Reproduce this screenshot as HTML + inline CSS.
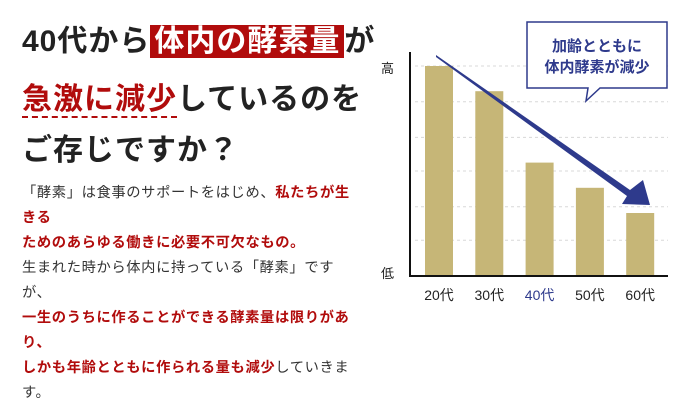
<!DOCTYPE html>
<html><head><meta charset="utf-8"><style>
body{margin:0;width:690px;height:418px;background:#fff;position:relative;overflow:hidden;font-family:"Liberation Sans","Noto Sans CJK JP",sans-serif;}
.t{position:absolute;left:22px;font-size:30px;font-weight:bold;color:#222;letter-spacing:1px;white-space:nowrap;line-height:40px;}
.hl{background:#b10c0c;color:#fff;padding:0 4px;}
.red{color:#b10c0c;}
.b{position:absolute;left:22px;font-size:14.3px;color:#333;white-space:nowrap;line-height:25px;letter-spacing:0.6px;}
.r{color:#b10c0c;font-weight:bold;}
</style></head><body>
<div class="t" style="top:22px">40代から<span class="hl">体内の酵素量</span>が</div>
<div class="t" style="top:80px"><span class="red" style="border-bottom:2px dashed #b10c0c;">急激に減少</span>しているのを</div>
<div class="t" style="top:131px">ご存じですか？</div>
<div>
<div class="b" style="top:181px">「酵素」は食事のサポートをはじめ、<span class="r">私たちが生</span></div>
<div class="b r" style="top:206px">きる</div>
<div class="b r" style="top:231px">ためのあらゆる働きに必要不可欠なもの。</div>
<div class="b" style="top:256px">生まれた時から体内に持っている「酵素」です</div>
<div class="b" style="top:281px">が、</div>
<div class="b r" style="top:306px">一生のうちに作ることができる酵素量は限りがあ</div>
<div class="b r" style="top:331px">り、</div>
<div class="b" style="top:356px"><span class="r">しかも年齢とともに作られる量も減少</span>していきま</div>
<div class="b" style="top:381px">す。</div>
</div>
<svg id="chart" width="690" height="418" style="position:absolute;left:0;top:0" xmlns="http://www.w3.org/2000/svg"></svg>
<script>
const categories=["20代","30代","40代","50代","60代"];
const values=[100,88,54,42,30];
const gridTicks=[100,83,66,50,33,17];
const svg=document.getElementById('chart');
const NS="http://www.w3.org/2000/svg";
const y0=276,yTop=66,vMax=100;
function yScale(v){return y0-(v/vMax)*(y0-yTop);}
function xScale(i){return 425+i*50.3;}
function mk(tag,attrs){const e=document.createElementNS(NS,tag);for(const k in attrs)e.setAttribute(k,attrs[k]);svg.appendChild(e);return e;}
gridTicks.forEach(v=>{const l=mk('line',{x1:415,x2:668,y1:yScale(v),y2:yScale(v),stroke:'#d8d8d8','stroke-width':1,'stroke-dasharray':'3,3'});

});
values.forEach((v,i)=>{const r=mk('rect',{x:xScale(i),y:yScale(v),width:28,height:y0-yScale(v),fill:'#c6b677'});


const t=mk('text',{x:xScale(i)+14,y:300,'text-anchor':'middle','font-size':14,fill:i==2?'#2e3a8c':'#222'});


t.textContent=categories[i];});
const ax=mk('path',{d:'M410 52 V276 H668',fill:'none',stroke:'#111','stroke-width':2});


const hi=mk('text',{x:381,y:73,'font-size':13,fill:'#222'});hi.textContent='高';


const lo=mk('text',{x:381,y:278,'font-size':13,fill:'#222'});lo.textContent='低';


const ar=mk('polygon',{points:'436,55 630,190 643,180 650,205 622,204 627,196 436,57',fill:'#2e3a8c'});


const cb=mk('path',{d:'M527 22 H667 V88 H600 L586 101 L588 88 H527 Z',fill:'#fff',stroke:'#2e3a8c','stroke-width':1.5});


[['加齢とともに',51],['体内酵素が減少',72]].forEach(([s,y])=>{const t=mk('text',{x:597,y:y,'text-anchor':'middle','font-size':15,'font-weight':'bold',fill:'#2e3a8c'});t.textContent=s;

});
</script>
</body></html>
